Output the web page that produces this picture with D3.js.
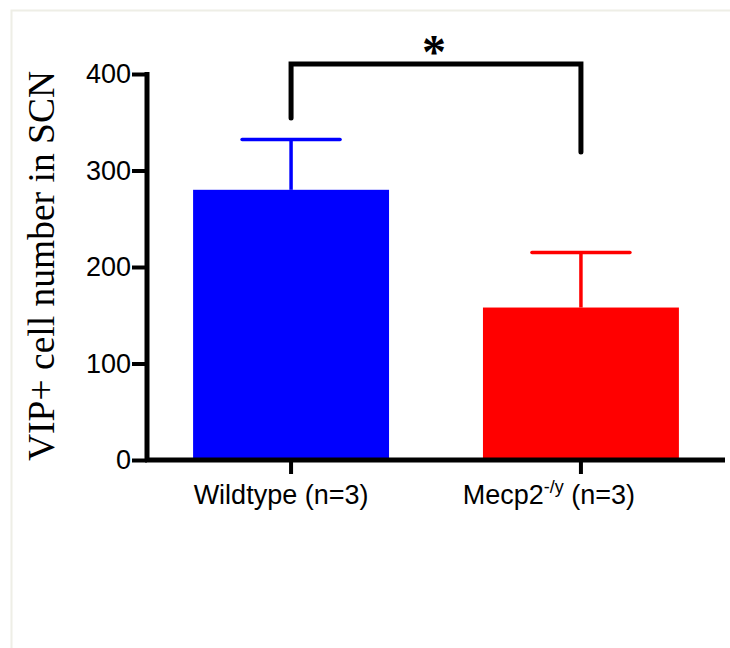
<!DOCTYPE html>
<html>
<head>
<meta charset="utf-8">
<script src="https://cdn.jsdelivr.net/npm/d3@7"></script>
<style>
  body { margin: 0; background: #fff; }
  svg { display: block; }
</style>
</head>
<body>
<div id="chart"></div>
<script>
// datos
var grupos = ["Wildtype", "Mecp2"];
var medias = [280, 158];
var errores = [52, 57];          // SEM (barra hacia arriba)
var colores = ["#0000ff", "#ff0000"];
var ticksY = [0, 100, 200, 300, 400];
var tituloY = "VIP+ cell number in SCN";
var significancia = "*";

var W = 730, H = 648;

var svg = d3.select("#chart").append("svg")
    .attr("width", W)
    .attr("height", H);

// marco gris claro
svg.append("path")
    .attr("d", "M11.5,648 V10.5 H730")
    .attr("fill", "none")
    .attr("stroke", "#eeeee6")
    .attr("stroke-width", 2);

var x = d3.scaleBand()
    .domain(grupos)
    .range([147, 725])
    .paddingInner(0.324)
    .paddingOuter(0.159);

var y = d3.scaleLinear()
    .domain([0, 400])
    .range([460, 74]);

// barras
svg.selectAll("rect.barra")
    .data(grupos)
    .enter().append("rect")
    .attr("class", "barra")
    .attr("x", d => x(d))
    .attr("y", (d, i) => y(medias[i]))
    .attr("width", x.bandwidth())
    .attr("height", (d, i) => y(0) - y(medias[i]))
    .attr("fill", (d, i) => colores[i]);

// barras de error
grupos.forEach(function(g, i) {
    var cx = x(g) + x.bandwidth() / 2;
    var mitad = x.bandwidth() / 4;
    svg.append("line")
        .attr("x1", cx).attr("x2", cx)
        .attr("y1", y(medias[i])).attr("y2", y(medias[i] + errores[i]))
        .attr("stroke", colores[i]).attr("stroke-width", 3.5);
    svg.append("line")
        .attr("x1", cx - mitad).attr("x2", cx + mitad)
        .attr("y1", y(medias[i] + errores[i])).attr("y2", y(medias[i] + errores[i]))
        .attr("stroke", colores[i]).attr("stroke-width", 3.5)
        .attr("stroke-linecap", "round");
});

// eje Y
var ejeY = svg.append("g")
    .attr("transform", "translate(147,0)")
    .call(d3.axisLeft(y).tickValues(ticksY).tickSize(15).tickSizeOuter(0).tickPadding(1));
ejeY.select(".domain").remove();
ejeY.selectAll(".tick line").attr("stroke", "#000").attr("stroke-width", 4);
ejeY.selectAll(".tick text")
    .attr("font-family", "Liberation Sans, Arial, sans-serif")
    .attr("font-size", 27)
    .attr("fill", "#000");
svg.append("line")
    .attr("x1", 147).attr("x2", 147)
    .attr("y1", y(400) - 2).attr("y2", y(0) + 2)
    .attr("stroke", "#000").attr("stroke-width", 5);

// eje X
var ejeX = svg.append("g")
    .attr("transform", "translate(0,460)")
    .call(d3.axisBottom(x).tickSize(14).tickSizeOuter(0).tickFormat(""));
ejeX.select(".domain").remove();
ejeX.selectAll(".tick line").attr("stroke", "#000").attr("stroke-width", 4);
svg.append("line")
    .attr("x1", 145).attr("x2", 725)
    .attr("y1", 460).attr("y2", 460)
    .attr("stroke", "#000").attr("stroke-width", 5);

// etiquetas del eje X
var cx0 = x(grupos[0]) + x.bandwidth() / 2;
var cx1 = x(grupos[1]) + x.bandwidth() / 2;
svg.append("text")
    .attr("x", cx0 - 10).attr("y", 504)
    .attr("text-anchor", "middle")
    .attr("font-family", "Liberation Sans, Arial, sans-serif")
    .attr("font-size", 27)
    .text("Wildtype (n=3)");
var t2 = svg.append("text")
    .attr("x", cx1 - 32).attr("y", 504)
    .attr("text-anchor", "middle")
    .attr("font-family", "Liberation Sans, Arial, sans-serif")
    .attr("font-size", 27);
t2.append("tspan").text("Mecp2");
t2.append("tspan").attr("dy", -11).attr("font-size", 18).text("-/y");
t2.append("tspan").attr("dy", 11).text(" (n=3)");

// titulo eje Y
svg.append("text")
    .attr("transform", "translate(54,266) rotate(-90)")
    .attr("text-anchor", "middle")
    .attr("font-family", "Liberation Serif, Times New Roman, serif")
    .attr("font-size", 37)
    .attr("textLength", 390)
    .attr("lengthAdjust", "spacingAndGlyphs")
    .text(tituloY);

// corchete de significancia
svg.append("path")
    .attr("d", "M" + cx0 + "," + 118 + " V64 H" + cx1 + " V" + 152)
    .attr("fill", "none")
    .attr("stroke", "#000")
    .attr("stroke-width", 5)
    .attr("stroke-linecap", "round");
svg.append("text")
    .attr("x", (cx0 + cx1) / 2 - 2)
    .attr("y", 68)
    .attr("text-anchor", "middle")
    .attr("font-family", "Liberation Serif, Times New Roman, serif")
    .attr("font-weight", "bold")
    .attr("font-size", 48)
    .text(significancia);
</script>
</body>
</html>
